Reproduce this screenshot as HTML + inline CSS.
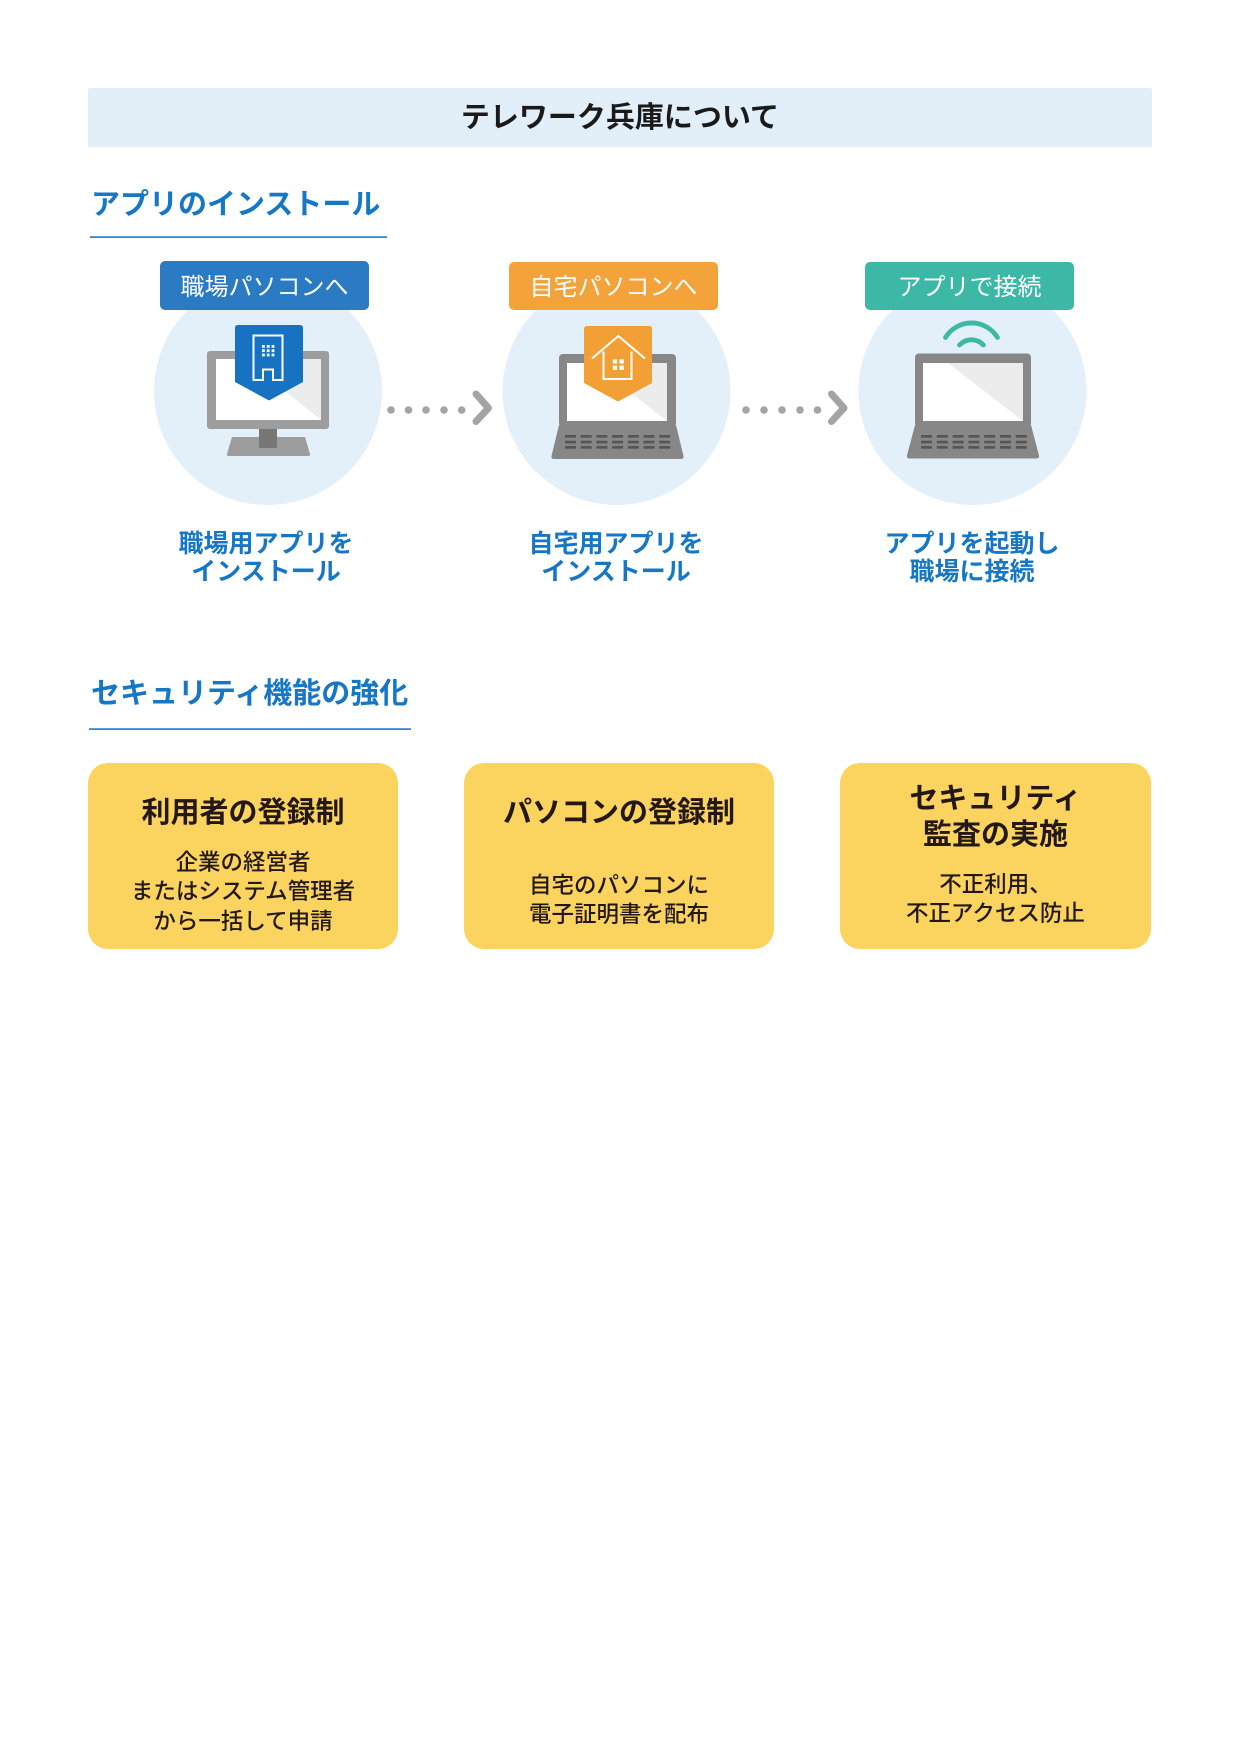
<!DOCTYPE html>
<html lang="ja">
<head>
<meta charset="utf-8">
<style>
  html,body{margin:0;padding:0;background:#fff;}
  body{width:1240px;height:1754px;position:relative;overflow:hidden;
       font-family:"Liberation Sans","Noto Sans CJK JP",sans-serif;}
  svg{position:absolute;left:0;top:0;}
  .t{position:absolute;white-space:nowrap;}
  .c{text-align:center;}
  .h1{font-size:29px;line-height:29px;font-weight:700;color:#1a1a1a;}
  .sec{font-size:29px;line-height:29px;font-weight:700;color:#1677c6;}
  .lab{font-size:24px;line-height:24px;font-weight:400;color:#fff;}
  .step{font-size:25px;line-height:28.8px;font-weight:700;color:#1677c6;}
  .ct{font-size:29px;line-height:35.5px;font-weight:700;color:#231815;}
  .cb{font-size:22.5px;line-height:29.4px;font-weight:500;color:#231815;}
</style>
</head>
<body>
<svg width="1240" height="1754" viewBox="0 0 1240 1754" xmlns="http://www.w3.org/2000/svg">
  <!-- Title bar -->
  <rect x="88" y="88" width="1064" height="59" rx="2" fill="#e3eff8"/>

  <!-- Section underlines -->
  <rect x="90" y="236.3" width="297" height="1.6" fill="#1a78c8"/>
  <rect x="89" y="728.3" width="322" height="1.6" fill="#1a78c8"/>

  <!-- Circles -->
  <circle cx="268" cy="391" r="114" fill="#e3f0f9"/>
  <circle cx="616.5" cy="391" r="114" fill="#e3f0f9"/>
  <circle cx="972.5" cy="391" r="114" fill="#e3f0f9"/>

  <!-- Labels -->
  <rect x="160" y="261" width="209" height="49" rx="5" fill="#2a7bc4"/>
  <rect x="509" y="262" width="209" height="48" rx="5" fill="#f4a23a"/>
  <rect x="865" y="262" width="209" height="48" rx="5" fill="#3eb8a6"/>

  <!-- Monitor 1 -->
  <rect x="207" y="351" width="122" height="78" rx="3" fill="#9d9d9d"/>
  <rect x="216" y="359" width="105" height="61" fill="#ffffff"/>
  <polygon points="245,359 321,359 321,420" fill="#ececec"/>
  <path d="M232,437 H305 L310,454 Q310.5,456 308,456 H229 Q226.5,456 227,454 Z" fill="#9d9d9d"/>
  <rect x="259" y="429" width="18" height="19" fill="#777777"/>
  <!-- Badge 1 -->
  <path d="M235,328 Q235,325 238,325 H300 Q303,325 303,328 V382 L270,400 Q269,400.6 268,400 L235,382 Z" fill="#1772c1"/>
  <path d="M253.5,380 V335.5 H282.5 V380 H273 V369.5 H263 V380 Z" fill="none" stroke="#fff" stroke-width="2"/>
  <g fill="#fff">
    <rect x="262" y="345" width="2.8" height="2.8"/><rect x="266.8" y="345" width="2.8" height="2.8"/><rect x="271.6" y="345" width="2.8" height="2.8"/>
    <rect x="262" y="349.3" width="2.8" height="2.8"/><rect x="266.8" y="349.3" width="2.8" height="2.8"/><rect x="271.6" y="349.3" width="2.8" height="2.8"/>
    <rect x="262" y="353.6" width="2.8" height="2.8"/><rect x="266.8" y="353.6" width="2.8" height="2.8"/><rect x="271.6" y="353.6" width="2.8" height="2.8"/>
  </g>

  <!-- Arrow 1 -->
  <g fill="#a4a4a4">
    <circle cx="391" cy="410" r="3.8"/><circle cx="408.5" cy="410" r="3.8"/><circle cx="426" cy="410" r="3.8"/><circle cx="444" cy="410" r="3.8"/><circle cx="461.7" cy="410" r="3.8"/>
  </g>
  <polyline points="476,394 488.5,408 476,421.5" fill="none" stroke="#a4a4a4" stroke-width="7" stroke-linecap="round" stroke-linejoin="round"/>

  <!-- Laptop 2 -->
  <rect x="559" y="354" width="117" height="73" rx="4" fill="#878787"/>
  <rect x="567" y="363" width="100" height="58" fill="#ffffff"/>
  <polygon points="592,363 667,363 667,421" fill="#ececec"/>
  <path d="M559,425 H676 L683.5,456 Q684,459 681,459 H554 Q551,459 551.5,456 Z" fill="#878787"/>
  <g fill="#565656">
    <rect x="565" y="435" width="11" height="2.7"/><rect x="580.7" y="435" width="11" height="2.7"/><rect x="596.4" y="435" width="11" height="2.7"/><rect x="612.1" y="435" width="11" height="2.7"/><rect x="627.8" y="435" width="11" height="2.7"/><rect x="643.5" y="435" width="11" height="2.7"/><rect x="659.2" y="435" width="11" height="2.7"/>
    <rect x="565" y="440.7" width="11" height="2.7"/><rect x="580.7" y="440.7" width="11" height="2.7"/><rect x="596.4" y="440.7" width="11" height="2.7"/><rect x="612.1" y="440.7" width="11" height="2.7"/><rect x="627.8" y="440.7" width="11" height="2.7"/><rect x="643.5" y="440.7" width="11" height="2.7"/><rect x="659.2" y="440.7" width="11" height="2.7"/>
    <rect x="565" y="446" width="11" height="2.7"/><rect x="580.7" y="446" width="11" height="2.7"/><rect x="596.4" y="446" width="11" height="2.7"/><rect x="612.1" y="446" width="11" height="2.7"/><rect x="627.8" y="446" width="11" height="2.7"/><rect x="643.5" y="446" width="11" height="2.7"/><rect x="659.2" y="446" width="11" height="2.7"/>
  </g>
  <!-- Badge 2 -->
  <path d="M584,329 Q584,326 587,326 H649 Q652,326 652,329 V383 L619,401 Q618,401.6 617,401 L584,383 Z" fill="#f2a036"/>
  <polyline points="592,358.5 618.3,336 645,358.5" fill="none" stroke="#fff" stroke-width="2" stroke-linejoin="miter"/>
  <polyline points="603.5,351.5 603.5,379 631.5,379 631.5,351.5" fill="none" stroke="#fff" stroke-width="2"/>
  <g fill="#fff">
    <rect x="612.8" y="359.2" width="4.3" height="4.3"/><rect x="619.5" y="359.2" width="4.3" height="4.3"/>
    <rect x="612.8" y="365.6" width="4.3" height="4.3"/><rect x="619.5" y="365.6" width="4.3" height="4.3"/>
  </g>

  <!-- Arrow 2 -->
  <g fill="#a4a4a4">
    <circle cx="746" cy="410" r="3.8"/><circle cx="764" cy="410" r="3.8"/><circle cx="782" cy="410" r="3.8"/><circle cx="800" cy="410" r="3.8"/><circle cx="817.5" cy="410" r="3.8"/>
  </g>
  <polyline points="831.5,394 844,408 831.5,421.5" fill="none" stroke="#a4a4a4" stroke-width="7" stroke-linecap="round" stroke-linejoin="round"/>

  <!-- Laptop 3 -->
  <rect x="915" y="353.5" width="116" height="73.5" rx="4" fill="#878787"/>
  <rect x="923" y="363" width="100" height="58" fill="#ffffff"/>
  <polygon points="948,363 1023,363 1023,421" fill="#ececec"/>
  <path d="M915,425 H1031 L1039,455.5 Q1039.5,458.5 1036.5,458.5 H909.5 Q906.5,458.5 907,455.5 Z" fill="#878787"/>
  <g fill="#565656">
    <rect x="921" y="435" width="11" height="2.7"/><rect x="936.8" y="435" width="11" height="2.7"/><rect x="952.6" y="435" width="11" height="2.7"/><rect x="968.4" y="435" width="11" height="2.7"/><rect x="984.2" y="435" width="11" height="2.7"/><rect x="1000" y="435" width="11" height="2.7"/><rect x="1015.8" y="435" width="11" height="2.7"/>
    <rect x="921" y="440.7" width="11" height="2.7"/><rect x="936.8" y="440.7" width="11" height="2.7"/><rect x="952.6" y="440.7" width="11" height="2.7"/><rect x="968.4" y="440.7" width="11" height="2.7"/><rect x="984.2" y="440.7" width="11" height="2.7"/><rect x="1000" y="440.7" width="11" height="2.7"/><rect x="1015.8" y="440.7" width="11" height="2.7"/>
    <rect x="921" y="446" width="11" height="2.7"/><rect x="936.8" y="446" width="11" height="2.7"/><rect x="952.6" y="446" width="11" height="2.7"/><rect x="968.4" y="446" width="11" height="2.7"/><rect x="984.2" y="446" width="11" height="2.7"/><rect x="1000" y="446" width="11" height="2.7"/><rect x="1015.8" y="446" width="11" height="2.7"/>
  </g>
  <!-- Wifi -->
  <path d="M945.5,337.5 A30.5,30.5 0 0 1 997.5,337.5" fill="none" stroke="#3cb8a3" stroke-width="4.8" stroke-linecap="round"/>
  <path d="M959.5,345 A16.5,16.5 0 0 1 983.5,345" fill="none" stroke="#3cb8a3" stroke-width="4.8" stroke-linecap="round"/>

  <!-- Cards -->
  <rect x="88" y="763" width="310" height="186" rx="20" fill="#fbd35f"/>
  <rect x="464" y="763" width="310" height="186" rx="20" fill="#fbd35f"/>
  <rect x="840" y="763" width="311" height="186" rx="20" fill="#fbd35f"/>
</svg>

<!-- Title -->
<div class="t c h1" style="left:88px;top:103.5px;width:1064px;">テレワーク兵庫について</div>

<!-- Section headings -->
<div class="t sec" style="left:91px;top:190.5px;">アプリのインストール</div>
<div class="t sec" style="left:91px;top:679.5px;">セキュリティ機能の強化</div>

<!-- Labels -->
<div class="t c lab" style="left:160px;top:276px;width:209px;">職場パソコンへ</div>
<div class="t c lab" style="left:509px;top:276px;width:209px;">自宅パソコンへ</div>
<div class="t c lab" style="left:865px;top:276px;width:209px;">アプリで接続</div>

<!-- Step texts -->
<div class="t c step" style="left:116px;top:529.5px;width:300px;">職場用アプリを<br>インストール</div>
<div class="t c step" style="left:466px;top:529.5px;width:300px;">自宅用アプリを<br>インストール</div>
<div class="t c step" style="left:822px;top:529.5px;width:300px;">アプリを起動し<br>職場に接続</div>

<!-- Card 1 -->
<div class="t c ct" style="left:88px;top:796.3px;width:310px;">利用者の登録制</div>
<div class="t c cb" style="left:88px;top:847.8px;width:310px;">企業の経営者<br>またはシステム管理者<br>から一括して申請</div>

<!-- Card 2 -->
<div class="t c ct" style="left:464px;top:796.3px;width:310px;">パソコンの登録制</div>
<div class="t c cb" style="left:464px;top:870.8px;width:310px;">自宅のパソコンに<br>電子証明書を配布</div>

<!-- Card 3 -->
<div class="t c ct" style="left:840px;top:782.3px;width:311px;">セキュリティ<br>監査の実施</div>
<div class="t c cb" style="left:840px;top:869.8px;width:311px;">不正利用、<br>不正アクセス防止</div>
</body>
</html>
